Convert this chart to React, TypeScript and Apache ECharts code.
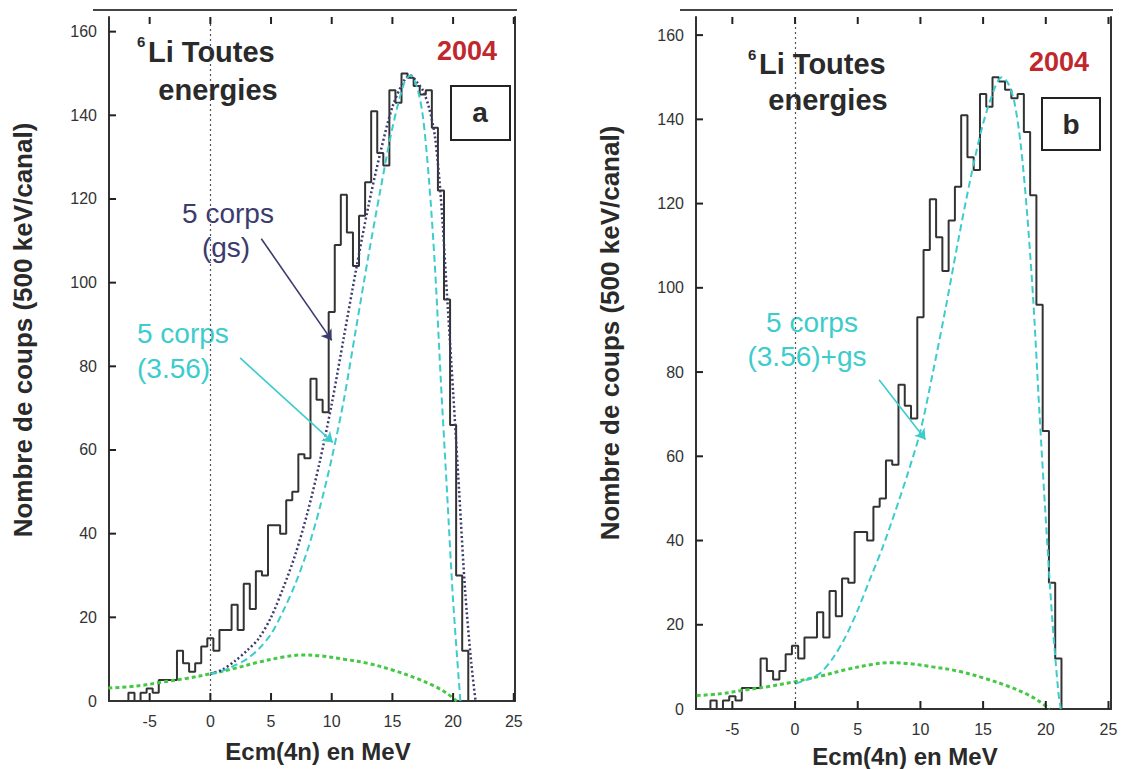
import React, { useEffect, useRef } from "react";
import * as echarts from "echarts";

// ---------- data ----------
const BIN_START = -8; // centre of first 500 keV channel (MeV)
const BIN_WIDTH = 0.5;
const HIST_COUNTS = [
  0, 0, 0, 2, 0, 2, 3, 2, 5, 5,
  5, 12, 9, 7, 9, 13, 15, 12, 17, 17,
  23, 17, 28, 22, 31, 30, 42, 42, 40, 48,
  50, 59, 58, 77, 72, 69, 93, 109, 121, 112,
  104, 116, 124, 141, 131, 128, 146, 143, 150, 149,
  147, 145, 146, 137, 122, 96, 66, 30, 12,
];

const X_TICKS = [-5, 0, 5, 10, 15, 20, 25];
const Y_TICKS = [0, 20, 40, 60, 80, 100, 120, 140, 160];

// background (green)
const BG_X = [-8.4, -6, -4, -2, 0, 2, 4, 6, 7.5, 9, 11, 13, 15, 17, 18.5, 19.5, 20.3];
const BG_Y = [3.1, 3.6, 4.5, 5.4, 6.5, 7.8, 9.3, 10.5, 11, 10.8, 10, 9, 7.4, 5.4, 3.5, 1.8, 0];

// 5 corps (gs) - panel a, dotted navy
const GS_X = [0, 1, 2, 3, 4, 5, 6, 7, 8, 9, 10, 11, 12, 13, 14, 15, 16, 16.5, 17, 17.5, 18, 18.5, 19, 19.5, 20, 20.5, 21, 21.5, 21.85];
const GS_Y = [6.5, 7.5, 9.5, 12, 15, 20, 27, 35, 45, 57, 71, 87, 103, 118, 131, 142, 148.5, 149.5, 148, 146, 142, 135, 120, 97, 74, 50, 26, 9, 0];

// 5 corps (3.56) - panel a, dashed cyan
const EXC_X = [0, 1, 2, 3, 4, 5, 6, 7, 8, 9, 10, 11, 12, 13, 14, 15, 16, 16.5, 17, 17.5, 18, 18.5, 19, 19.5, 20, 20.6];
const EXC_Y = [6.5, 7.2, 8.5, 10, 12.5, 16, 21.5, 28, 36, 46, 58, 72, 89, 106, 122, 137, 148, 149.5, 147, 140, 125, 104, 76, 50, 24, 0];

// 5 corps (3.56)+gs - panel b, dashed cyan
const MIX_X = [0, 1, 2, 3, 4, 5, 6, 7, 8, 9, 10, 11, 12, 13, 14, 15, 16, 16.5, 17, 17.5, 18, 18.5, 19, 19.5, 20, 20.5, 21, 21.2];
const MIX_Y = [6, 7, 8.5, 12, 17, 23.5, 31, 38.5, 47, 56, 66, 80, 95, 111, 126, 139, 148, 150, 148.5, 144, 134, 118, 97, 70, 45, 22, 4, 0];

// annotation arrows (data coordinates: [start, end])
const ARROW_GS_A = [[4.2, 110.5], [10.0, 86.2]];
const ARROW_EXC_A = [[2.45, 82], [10.1, 61.8]];
const ARROW_MIX_B = [[6.7, 78.2], [10.4, 64]];

// ---------- style / layout ----------
const FONT = '"Liberation Sans", Arial, Helvetica, sans-serif';
const INK = "#2a2a2a";
const AXIS = "#333";
const NAVY = "#3b3b6d";
const CYAN = "#3ccccc";
const GREEN = "#46c846";
const RED = "#c0282d";

const GRIDS = [
  { left: 109, top: 17, width: 406, height: 684, xMin: -8.35, xMax: 25.1, yMax: 163.5, xi: 0, yi: 0 },
  { left: 696, top: 17, width: 415, height: 692, xMin: -7.9, xMax: 25.2, yMax: 164.3, xi: 2, yi: 2 },
];

const pairs = (xs: number[], ys: number[]) => xs.map((x, i) => [x, ys[i]]);

function histSteps() {
  const pts = HIST_COUNTS.map((c, i) => [BIN_START + i * BIN_WIDTH - BIN_WIDTH / 2, c]);
  pts.push([BIN_START + HIST_COUNTS.length * BIN_WIDTH - BIN_WIDTH / 2, 0]);
  return pts;
}

function txt(text: string, x: number, y: number, size: number, color: string, weight = "bold", align = "left", rotation = 0) {
  return {
    type: "text",
    x,
    y,
    rotation,
    silent: true,
    style: {
      text,
      fill: color,
      font: `${weight} ${size}px ${FONT}`,
      align,
      verticalAlign: "middle",
      textAlign: align,
      textVerticalAlign: "middle",
    },
  };
}

const LABEL_STYLE = { color: "#333", fontSize: 16, fontFamily: FONT };

function xAxes(grid: number, min: number, max: number) {
  return [
    {
      type: "value",
      gridIndex: grid,
      position: "bottom",
      min,
      max,
      splitNumber: 7,
      axisLine: { show: true, onZero: false, lineStyle: { color: AXIS, width: 2 } },
      axisTick: { show: false },
      axisLabel: { show: true, customValues: X_TICKS, margin: 12, ...LABEL_STYLE },
      splitLine: { show: false },
    },
    {
      type: "value",
      gridIndex: grid,
      position: "top",
      min,
      max,
      axisLine: { show: false, onZero: false },
      axisTick: { show: false },
      axisLabel: { show: false },
      splitLine: { show: false },
    },
  ];
}

function yAxes(grid: number, max: number) {
  return [
    {
      type: "value",
      gridIndex: grid,
      position: "left",
      min: 0,
      max,
      splitNumber: 8,
      axisLine: { show: true, onZero: false, lineStyle: { color: AXIS, width: 2 } },
      axisTick: { show: false },
      axisLabel: { show: true, customValues: Y_TICKS, margin: 12, ...LABEL_STYLE },
      splitLine: { show: false },
    },
    {
      type: "value",
      gridIndex: grid,
      position: "right",
      min: 0,
      max,
      axisLine: { show: true, onZero: false, lineStyle: { color: AXIS, width: 2 } },
      axisTick: { show: false },
      axisLabel: { show: false },
      splitLine: { show: false },
    },
  ];
}

function arrow(a: number[][], color: string) {
  return [{ coord: a[0], lineStyle: { color, width: 1.6, type: "solid" } }, { coord: a[1] }];
}

// inward tick marks at the axis values (linear axis mapping of each grid)
function tickGraphics() {
  const out: any[] = [];
  const seg = (x1: number, y1: number, x2: number, y2: number) => ({
    type: "line",
    silent: true,
    z: 50,
    shape: { x1, y1, x2, y2 },
    style: { stroke: "#222", lineWidth: 2 },
  });
  GRIDS.forEach((g) => {
    const bottom = g.top + g.height;
    X_TICKS.forEach((v) => {
      if (v <= g.xMin || v >= g.xMax) return;
      const px = g.left + ((v - g.xMin) / (g.xMax - g.xMin)) * g.width;
      out.push(seg(px, bottom, px, bottom - 8));
      out.push(seg(px, g.top, px, g.top + 7));
    });
    Y_TICKS.forEach((v) => {
      if (v <= 0 || v >= g.yMax) return;
      const py = bottom - (v / g.yMax) * g.height;
      out.push(seg(g.left, py, g.left + 7, py));
    });
  });
  return out;
}

function staticGraphics() {
  return [
    // top frame lines
    { type: "line", silent: true, shape: { x1: 93, y1: 10, x2: 517, y2: 10 }, style: { stroke: "#444", lineWidth: 2 } },
    { type: "line", silent: true, shape: { x1: 680, y1: 10, x2: 1113, y2: 10 }, style: { stroke: "#444", lineWidth: 2 } },

    // panel a
    txt("6", 137, 41, 15, INK),
    txt("Li Toutes", 148, 52, 29, INK),
    txt("energies", 218, 90, 29, INK, "bold", "center"),
    txt("2004", 467, 51, 27, RED, "bold", "center"),
    { type: "rect", silent: true, shape: { x: 451, y: 86, width: 59, height: 54 }, style: { fill: "#fff", stroke: "#222", lineWidth: 2 } },
    txt("a", 480, 112, 28, INK, "bold", "center"),
    txt("5 corps", 228, 213, 28, NAVY, "normal", "center"),
    txt("(gs)", 226, 247, 28, NAVY, "normal", "center"),
    txt("5 corps", 137, 333, 28, CYAN, "normal", "left"),
    txt("(3.56)", 137, 368, 28, CYAN, "normal", "left"),
    txt("Nombre de coups (500 keV/canal)", 23, 330, 26, INK, "bold", "center", Math.PI / 2),
    txt("Ecm(4n) en MeV", 318, 751, 24, INK, "bold", "center"),

    // panel b
    txt("6", 748, 54, 15, INK),
    txt("Li Toutes", 759, 64, 29, INK),
    txt("energies", 828, 100, 29, INK, "bold", "center"),
    txt("2004", 1059, 62, 27, RED, "bold", "center"),
    { type: "rect", silent: true, shape: { x: 1042, y: 98, width: 58, height: 52 }, style: { fill: "#fff", stroke: "#222", lineWidth: 2 } },
    txt("b", 1071, 124, 28, INK, "bold", "center"),
    txt("5 corps", 812, 322, 28, CYAN, "normal", "center"),
    txt("(3.56)+gs", 807, 356, 28, CYAN, "normal", "center"),
    txt("Nombre de coups (500 keV/canal)", 610, 333, 26, INK, "bold", "center", Math.PI / 2),
    txt("Ecm(4n) en MeV", 905, 756, 24, INK, "bold", "center"),
  ];
}

function buildOption() {
  const zeroStyle = { type: [2, 3], color: "#555", width: 1.2 };
  const zeroLine = {
    silent: true,
    symbol: ["none", "none"],
    label: { show: false },
    lineStyle: zeroStyle,
    data: [{ xAxis: 0, lineStyle: zeroStyle }],
  };

  const panelSeries = (xi: number, yi: number, curves: any[]) => [
    {
      type: "line",
      name: "histogram",
      xAxisIndex: xi,
      yAxisIndex: yi,
      data: histSteps(),
      step: "end",
      showSymbol: false,
      symbol: "none",
      lineStyle: { color: "#333", width: 2 },
      markLine: zeroLine,
      z: 2,
    },
    {
      type: "line",
      name: "bruit",
      xAxisIndex: xi,
      yAxisIndex: yi,
      data: pairs(BG_X, BG_Y),
      smooth: 0.35,
      showSymbol: false,
      symbol: "none",
      lineStyle: { color: GREEN, width: 3, type: [4, 3] },
      z: 3,
    },
    ...curves.map((c) => ({
      type: "line",
      name: c.name,
      xAxisIndex: xi,
      yAxisIndex: yi,
      data: c.data,
      smooth: 0.3,
      showSymbol: false,
      symbol: "none",
      lineStyle: c.lineStyle,
      z: 4,
      markLine: {
        silent: true,
        symbol: ["none", "arrow"],
        symbolSize: 10,
        label: { show: false },
        data: [arrow(c.arrow, c.arrowColor)],
      },
    })),
  ];

  return {
    animation: false,
    backgroundColor: "#ffffff",
    grid: GRIDS.map((g) => ({ left: g.left, top: g.top, width: g.width, height: g.height })),
    xAxis: [...xAxes(0, GRIDS[0].xMin, GRIDS[0].xMax), ...xAxes(1, GRIDS[1].xMin, GRIDS[1].xMax)],
    yAxis: [...yAxes(0, GRIDS[0].yMax), ...yAxes(1, GRIDS[1].yMax)],
    series: [
      ...panelSeries(0, 0, [
        { name: "5 corps (gs)", data: pairs(GS_X, GS_Y), lineStyle: { color: NAVY, width: 2.5, type: [2, 2.5] }, arrow: ARROW_GS_A, arrowColor: NAVY },
        { name: "5 corps (3.56)", data: pairs(EXC_X, EXC_Y), lineStyle: { color: CYAN, width: 2, type: [7, 4] }, arrow: ARROW_EXC_A, arrowColor: CYAN },
      ]),
      ...panelSeries(2, 2, [
        { name: "5 corps (3.56)+gs", data: pairs(MIX_X, MIX_Y), lineStyle: { color: CYAN, width: 2, type: [7, 4] }, arrow: ARROW_MIX_B, arrowColor: CYAN },
      ]),
    ],
    graphic: [...staticGraphics(), ...tickGraphics()],
  };
}

export default function App() {
  const ref = useRef<HTMLDivElement>(null);
  useEffect(() => {
    if (!ref.current) return;
    const chart = echarts.init(ref.current, undefined, { renderer: "svg" });
    chart.setOption(buildOption() as any);
    return () => chart.dispose();
  }, []);
  return (
    <div
      ref={ref}
      style={{ position: "absolute", left: 0, top: 0, width: 1122, height: 769, background: "#fff" }}
    />
  );
}
